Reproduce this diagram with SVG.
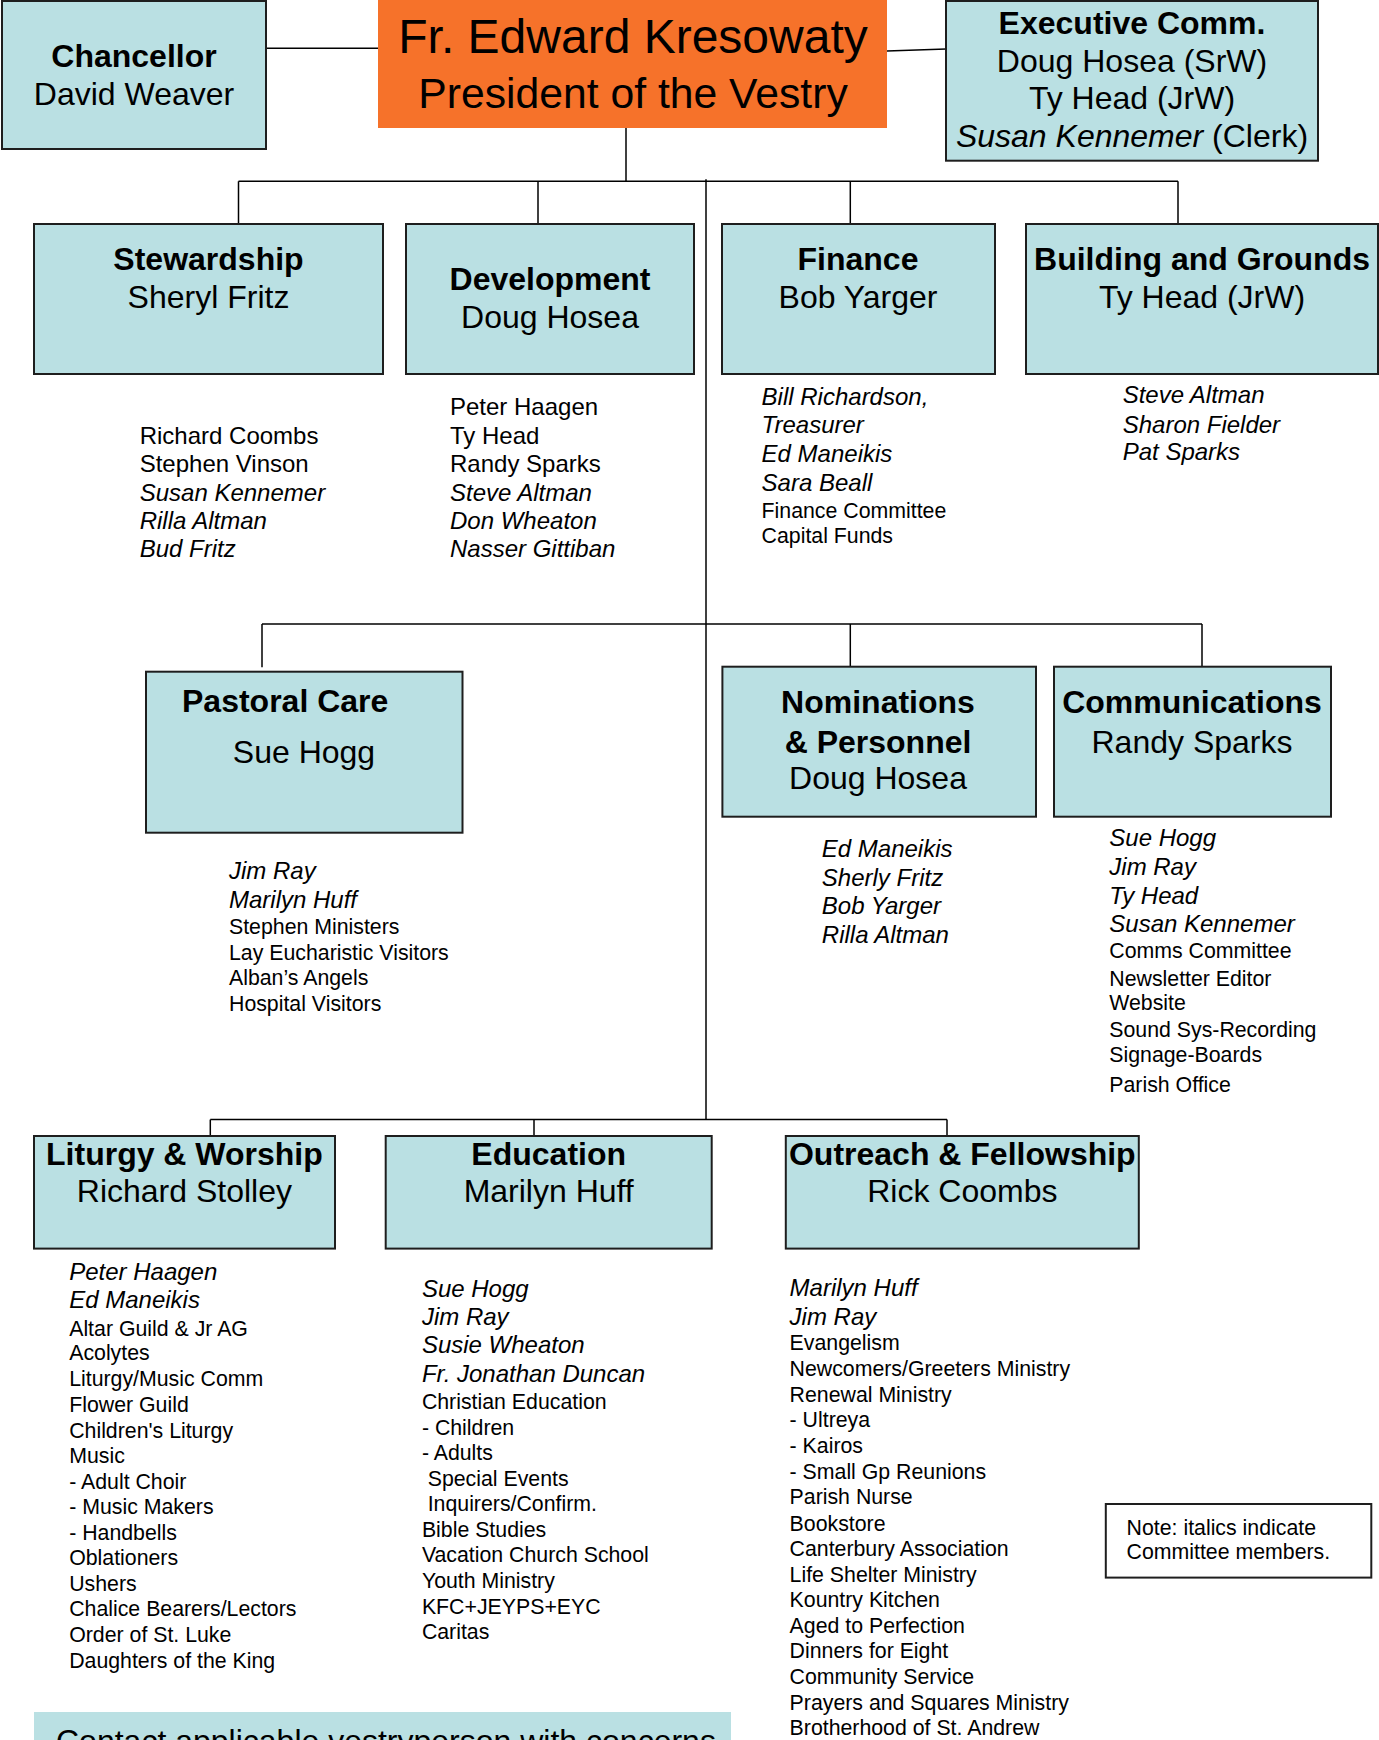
<svg xmlns="http://www.w3.org/2000/svg" width="1379" height="1740" viewBox="0 0 1379 1740">
<style>
.box{fill:#BAE0E3;stroke:#1e1e1e;stroke-width:2}
.ln{stroke:#000;stroke-width:1.5;fill:none}
text{font-family:"Liberation Sans",Arial,sans-serif;fill:#000}
.h{font-size:32px;font-weight:bold;text-anchor:middle}
.n{font-size:32px;text-anchor:middle}
.i{font-size:24px;font-style:italic}
.r{font-size:24px}
.s{font-size:21.3px}
</style>
<rect width="1379" height="1740" fill="#fff"/>
<g id="connectors">
<line class="ln" x1="266" y1="48.3" x2="378" y2="48.3"/>
<line class="ln" x1="887" y1="51" x2="946" y2="49"/>
<line class="ln" x1="626" y1="128" x2="626" y2="181.3"/>
<line class="ln" x1="238.5" y1="181.3" x2="1178" y2="181.3"/>
<line class="ln" x1="238.5" y1="181.3" x2="238.5" y2="224"/>
<line class="ln" x1="538" y1="181.3" x2="538" y2="224"/>
<line class="ln" x1="850.3" y1="181.3" x2="850.3" y2="224"/>
<line class="ln" x1="1178" y1="181.3" x2="1178" y2="224"/>
<line class="ln" x1="706" y1="179.3" x2="706" y2="1119.6"/>
<line class="ln" x1="262" y1="624" x2="1202" y2="624"/>
<line class="ln" x1="262" y1="624" x2="262" y2="667.3"/>
<line class="ln" x1="850.3" y1="624" x2="850.3" y2="666.7"/>
<line class="ln" x1="1202" y1="624" x2="1202" y2="666.7"/>
<line class="ln" x1="210.3" y1="1119.6" x2="947" y2="1119.6"/>
<line class="ln" x1="210.3" y1="1119.6" x2="210.3" y2="1136"/>
<line class="ln" x1="534" y1="1119.6" x2="534" y2="1136"/>
<line class="ln" x1="947" y1="1119.6" x2="947" y2="1136"/>
</g>
<g id="chancellor">
<rect class="box" x="2" y="1" width="264" height="148"/>
<text class="h" x="134" y="66.7">Chancellor</text>
<text class="n" x="134" y="105">David Weaver</text>
</g>
<g id="president">
<rect x="378" y="0" width="509" height="128" fill="#F6722A"/>
<text x="633" y="53.3" font-size="48" text-anchor="middle">Fr. Edward Kresowaty</text>
<text x="633" y="108.3" font-size="42.7" text-anchor="middle">President of the Vestry</text>
</g>
<g id="executive">
<rect class="box" x="946" y="1" width="372" height="159.7"/>
<text class="h" x="1132" y="34">Executive Comm.</text>
<text class="n" x="1132" y="71.7">Doug Hosea (SrW)</text>
<text class="n" x="1132" y="109.3">Ty Head (JrW)</text>
<text class="n" x="1132" y="146.7"><tspan font-style="italic">Susan Kennemer</tspan> (Clerk)</text>
</g>
<g id="stewardship">
<rect class="box" x="34" y="224" width="349" height="150"/>
<text class="h" x="208.5" y="270">Stewardship</text>
<text class="n" x="208.5" y="308">Sheryl Fritz</text>
<text class="r" x="139.7" y="444">Richard Coombs</text>
<text class="r" x="139.7" y="472">Stephen Vinson</text>
<text class="i" x="139.7" y="500.5">Susan Kennemer</text>
<text class="i" x="139.7" y="529">Rilla Altman</text>
<text class="i" x="139.7" y="557">Bud Fritz</text>
</g>
<g id="development">
<rect class="box" x="406" y="224" width="288" height="150"/>
<text class="h" x="550" y="290">Development</text>
<text class="n" x="550" y="328">Doug Hosea</text>
<text class="r" x="450" y="415">Peter Haagen</text>
<text class="r" x="450" y="444">Ty Head</text>
<text class="r" x="450" y="472">Randy Sparks</text>
<text class="i" x="450" y="500.5">Steve Altman</text>
<text class="i" x="450" y="529">Don Wheaton</text>
<text class="i" x="450" y="557">Nasser Gittiban</text>
</g>
<g id="finance">
<rect class="box" x="722" y="224" width="273" height="150"/>
<text class="h" x="858" y="270">Finance</text>
<text class="n" x="858" y="308">Bob Yarger</text>
<text class="i" x="761.6" y="405">Bill Richardson,</text>
<text class="i" x="761.6" y="433.3">Treasurer</text>
<text class="i" x="761.6" y="461.7">Ed Maneikis</text>
<text class="i" x="761.6" y="490.7">Sara Beall</text>
<text class="s" x="761.6" y="517.7">Finance Committee</text>
<text class="s" x="761.6" y="542.7">Capital Funds</text>
</g>
<g id="building">
<rect class="box" x="1026" y="224" width="352" height="150"/>
<text class="h" x="1202" y="270">Building and Grounds</text>
<text class="n" x="1202" y="308">Ty Head (JrW)</text>
<text class="i" x="1122.7" y="403.3">Steve Altman</text>
<text class="i" x="1122.7" y="432.7">Sharon Fielder</text>
<text class="i" x="1122.7" y="460">Pat Sparks</text>
</g>
<g id="pastoral">
<rect class="box" x="146" y="671.7" width="316.5" height="161"/>
<text x="182" y="711.7" font-size="32" font-weight="bold">Pastoral Care</text>
<text class="n" x="304" y="763.3">Sue Hogg</text>
<text class="i" x="229" y="879.3">Jim Ray</text>
<text class="i" x="229" y="907.7">Marilyn Huff</text>
<text class="s" x="229" y="934">Stephen Ministers</text>
<text class="s" x="229" y="960">Lay Eucharistic Visitors</text>
<text class="s" x="229" y="985.3">Alban’s Angels</text>
<text class="s" x="229" y="1011">Hospital Visitors</text>
</g>
<g id="nominations">
<rect class="box" x="722.4" y="666.7" width="313.6" height="150"/>
<text class="h" x="878" y="713.3">Nominations</text>
<text class="h" x="878" y="752.7">&amp; Personnel</text>
<text class="n" x="878" y="789.3">Doug Hosea</text>
<text class="i" x="821.8" y="857.3">Ed Maneikis</text>
<text class="i" x="821.8" y="886">Sherly Fritz</text>
<text class="i" x="821.8" y="914">Bob Yarger</text>
<text class="i" x="821.8" y="943.3">Rilla Altman</text>
</g>
<g id="communications">
<rect class="box" x="1054" y="666.7" width="277" height="150"/>
<text class="h" x="1192" y="713.3">Communications</text>
<text class="n" x="1192" y="752.7">Randy Sparks</text>
<text class="i" x="1109.3" y="846">Sue Hogg</text>
<text class="i" x="1109.3" y="875">Jim Ray</text>
<text class="i" x="1109.3" y="904">Ty Head</text>
<text class="i" x="1109.3" y="931.7">Susan Kennemer</text>
<text class="s" x="1109.3" y="958.3">Comms Committee</text>
<text class="s" x="1109.3" y="985.7">Newsletter Editor</text>
<text class="s" x="1109.3" y="1010">Website</text>
<text class="s" x="1109.3" y="1036.7">Sound Sys-Recording</text>
<text class="s" x="1109.3" y="1061.7">Signage-Boards</text>
<text class="s" x="1109.3" y="1091.7">Parish Office</text>
</g>
<g id="liturgy">
<rect class="box" x="34" y="1136" width="301" height="112.6"/>
<text class="h" x="184.4" y="1165.3">Liturgy &amp; Worship</text>
<text class="n" x="184.4" y="1202">Richard Stolley</text>
<text class="i" x="69.2" y="1279.6">Peter Haagen</text>
<text class="i" x="69.2" y="1308.2">Ed Maneikis</text>
<text class="s" x="69.2" y="1335.5">Altar Guild &amp; Jr AG</text>
<text class="s" x="69.2" y="1360.4">Acolytes</text>
<text class="s" x="69.2" y="1385.7">Liturgy/Music Comm</text>
<text class="s" x="69.2" y="1412.2">Flower Guild</text>
<text class="s" x="69.2" y="1438">Children's Liturgy</text>
<text class="s" x="69.2" y="1463.3">Music</text>
<text class="s" x="69.2" y="1488.6">- Adult Choir</text>
<text class="s" x="69.2" y="1514.3">- Music Makers</text>
<text class="s" x="69.2" y="1540">- Handbells</text>
<text class="s" x="69.2" y="1565.3">Oblationers</text>
<text class="s" x="69.2" y="1591">Ushers</text>
<text class="s" x="69.2" y="1616.3">Chalice Bearers/Lectors</text>
<text class="s" x="69.2" y="1642">Order of St. Luke</text>
<text class="s" x="69.2" y="1668.2">Daughters of the King</text>
</g>
<g id="education">
<rect class="box" x="385.7" y="1136" width="326" height="112.6"/>
<text class="h" x="548.7" y="1165.3">Education</text>
<text class="n" x="548.7" y="1202">Marilyn Huff</text>
<text class="i" x="421.9" y="1296.7">Sue Hogg</text>
<text class="i" x="421.9" y="1324.5">Jim Ray</text>
<text class="i" x="421.9" y="1353">Susie Wheaton</text>
<text class="i" x="421.9" y="1381.6">Fr. Jonathan Duncan</text>
<text class="s" x="421.9" y="1409.4">Christian Education</text>
<text class="s" x="421.9" y="1434.7">- Children</text>
<text class="s" x="421.9" y="1460">- Adults</text>
<text class="s" x="427.7" y="1485.7">Special Events</text>
<text class="s" x="427.7" y="1511.4">Inquirers/Confirm.</text>
<text class="s" x="421.9" y="1536.7">Bible Studies</text>
<text class="s" x="421.9" y="1562.4">Vacation Church School</text>
<text class="s" x="421.9" y="1587.8">Youth Ministry</text>
<text class="s" x="421.9" y="1613.5">KFC+JEYPS+EYC</text>
<text class="s" x="421.9" y="1638.8">Caritas</text>
</g>
<g id="outreach">
<rect class="box" x="785.8" y="1136" width="353" height="112.6"/>
<text class="h" x="962.3" y="1165.3">Outreach &amp; Fellowship</text>
<text class="n" x="962.3" y="1202">Rick Coombs</text>
<text class="i" x="789.6" y="1295.9">Marilyn Huff</text>
<text class="i" x="789.6" y="1324.5">Jim Ray</text>
<text class="s" x="789.6" y="1349.8">Evangelism</text>
<text class="s" x="789.6" y="1376.3">Newcomers/Greeters Ministry</text>
<text class="s" x="789.6" y="1402">Renewal Ministry</text>
<text class="s" x="789.6" y="1427.3">- Ultreya</text>
<text class="s" x="789.6" y="1453">- Kairos</text>
<text class="s" x="789.6" y="1478.8">- Small Gp Reunions</text>
<text class="s" x="789.6" y="1504">Parish Nurse</text>
<text class="s" x="789.6" y="1530.6">Bookstore</text>
<text class="s" x="789.6" y="1556">Canterbury Association</text>
<text class="s" x="789.6" y="1581.6">Life Shelter Ministry</text>
<text class="s" x="789.6" y="1607.3">Kountry Kitchen</text>
<text class="s" x="789.6" y="1632.7">Aged to Perfection</text>
<text class="s" x="789.6" y="1658.4">Dinners for Eight</text>
<text class="s" x="789.6" y="1683.7">Community Service</text>
<text class="s" x="789.6" y="1710.2">Prayers and Squares Ministry</text>
<text class="s" x="789.6" y="1734.7">Brotherhood of St. Andrew</text>
</g>
<g id="note">
<rect x="1105.8" y="1504" width="265.5" height="73.6" fill="#fff" stroke="#1e1e1e" stroke-width="2"/>
<text class="s" x="1126.6" y="1534.7">Note: italics indicate</text>
<text class="s" x="1126.6" y="1559.2">Committee members.</text>
</g>
<g id="banner">
<rect x="34" y="1712" width="697" height="40" fill="#BAE0E3"/>
<text x="56" y="1751.5" font-size="32">Contact applicable vestryperson with concerns</text>
</g>
</svg>
